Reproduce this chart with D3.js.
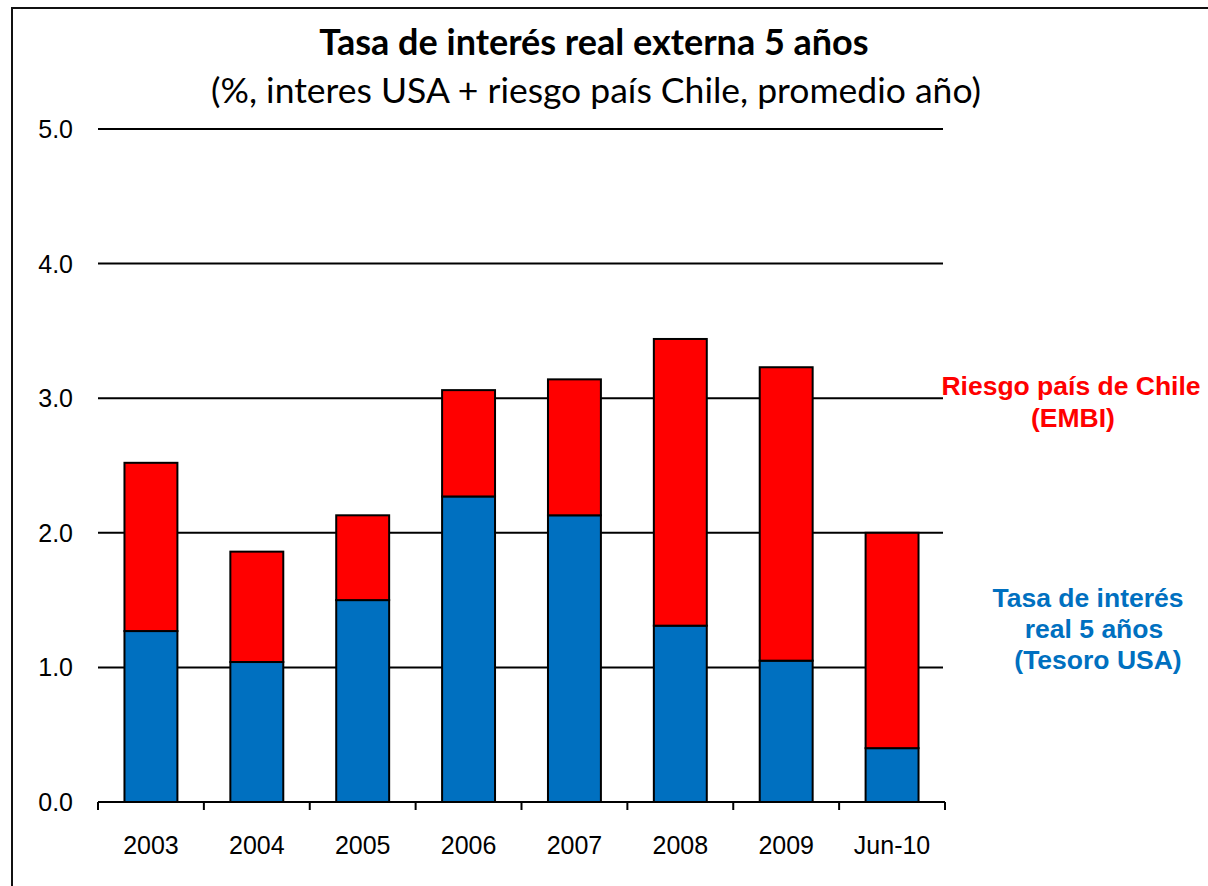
<!DOCTYPE html>
<html>
<head>
<meta charset="utf-8">
<script src="https://cdn.jsdelivr.net/npm/d3@7"></script>
<style>
  body { margin: 0; background: #fff; }
  svg { display: block; }
</style>
</head>
<body>
<script>
// data
const categories = ["2003", "2004", "2005", "2006", "2007", "2008", "2009", "Jun-10"];
const tasaUSA = [1.27, 1.04, 1.50, 2.27, 2.13, 1.31, 1.05, 0.40];
const riesgoChile = [1.25, 0.82, 0.63, 0.79, 1.01, 2.13, 2.18, 1.60];
const yTicks = [0, 1, 2, 3, 4, 5];

const W = 1208, H = 886;
const axisFont = "'Liberation Sans', Arial, sans-serif";
const titleFont = "Lato, 'Open Sans', sans-serif";

const svg = d3.select("body").append("svg").attr("width", W).attr("height", H);

// outer frame (runs off the right and bottom edge)
svg.append("rect").attr("x", 12).attr("y", 8).attr("width", W).attr("height", H)
    .attr("fill", "none").attr("stroke", "#111").attr("stroke-width", 2);

const x = d3.scaleBand().domain(categories).range([98, 945]).paddingInner(0.5).paddingOuter(0.25);
const y = d3.scaleLinear().domain([0, 5]).range([802, 129]);

// gridlines
svg.append("g").selectAll("line").data(yTicks.slice(1)).join("line")
    .attr("x1", 98).attr("x2", 943)
    .attr("y1", d => y(d)).attr("y2", d => y(d))
    .attr("stroke", "#000").attr("stroke-width", 2);

// y labels
svg.append("g").selectAll("text").data(yTicks).join("text")
    .attr("x", 73).attr("y", d => y(d)).attr("dy", "0.36em")
    .attr("text-anchor", "end")
    .style("font-family", axisFont).style("font-size", "25px")
    .text(d => d3.format(".1f")(d));

// stacked bars
const rows = categories.map((c, i) => ({ cat: c, usa: tasaUSA[i], riesgo: riesgoChile[i] }));
const stack = d3.stack().keys(["usa", "riesgo"])(rows);
const colors = { usa: "#0070C0", riesgo: "#FF0000" };

svg.append("g").selectAll("g").data(stack).join("g")
    .attr("fill", d => colors[d.key])
    .selectAll("rect").data(d => d).join("rect")
    .attr("x", d => x(d.data.cat))
    .attr("width", x.bandwidth())
    .attr("y", d => y(d[1]))
    .attr("height", d => y(d[0]) - y(d[1]))
    .attr("stroke", "#000").attr("stroke-width", 2);

// x axis with ticks between categories
const xAxis = svg.append("g");
xAxis.append("line").attr("x1", 98).attr("x2", 945).attr("y1", 802).attr("y2", 802)
    .attr("stroke", "#000").attr("stroke-width", 2);
xAxis.selectAll("line.tk").data(d3.range(categories.length + 1)).join("line")
    .attr("class", "tk")
    .attr("x1", i => 98 + i * x.step())
    .attr("x2", i => 98 + i * x.step())
    .attr("y1", 802).attr("y2", 810)
    .attr("stroke", "#000").attr("stroke-width", 2);
xAxis.selectAll("text").data(categories).join("text")
    .attr("x", d => x(d) + x.bandwidth() / 2).attr("y", 854)
    .attr("text-anchor", "middle")
    .style("font-family", axisFont).style("font-size", "25px")
    .text(d => d);

// titles
svg.append("text").attr("x", 594).attr("y", 55).attr("text-anchor", "middle")
    .style("font-family", titleFont).style("font-weight", "bold").style("font-size", "36px")
    .text("Tasa de interés real externa 5 años");
svg.append("text").attr("x", 596).attr("y", 103).attr("text-anchor", "middle")
    .style("font-family", titleFont).style("font-size", "35.5px")
    .text("(%, interes USA + riesgo país Chile, promedio año)");

// series annotations
const note = (lines, y0, gap, color) => {
    svg.append("g").selectAll("text").data(lines).join("text")
        .attr("x", d => d.cx).attr("y", (d, i) => y0 + i * gap)
        .attr("text-anchor", "middle").attr("fill", color)
        .style("font-family", axisFont).style("font-weight", "bold").style("font-size", "26.5px")
        .text(d => d.t);
};
note([{ t: "Riesgo país de Chile", cx: 1071 }, { t: "(EMBI)", cx: 1073 }], 395, 32, "#FF0000");
note([{ t: "Tasa de interés", cx: 1088 }, { t: "real 5 años", cx: 1094 }, { t: "(Tesoro USA)", cx: 1098 }], 607, 31, "#0070C0");
</script>
</body>
</html>
